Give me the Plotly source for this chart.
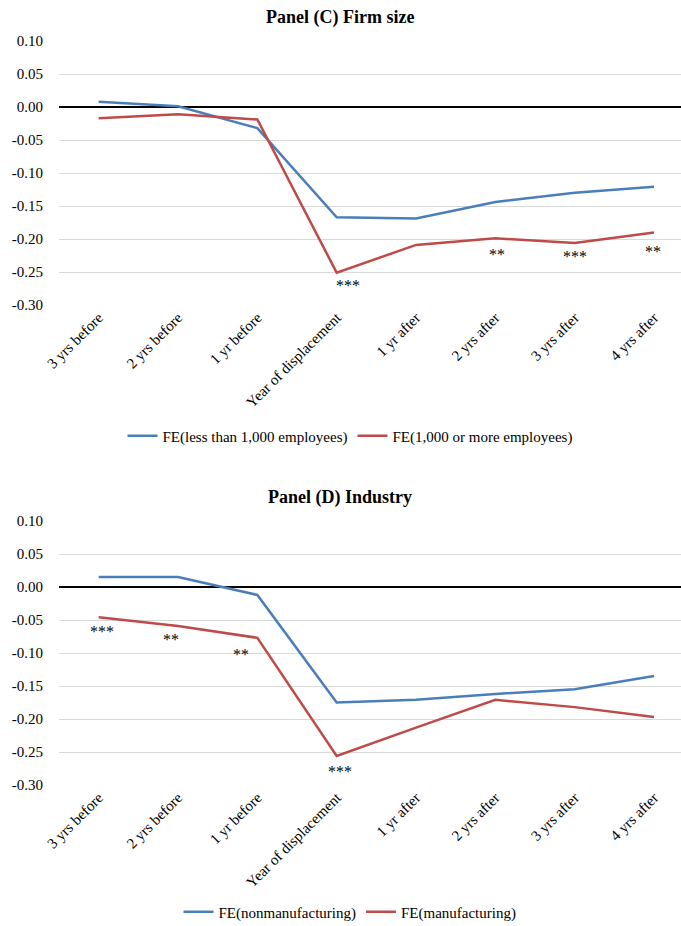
import plotly.graph_objects as go

categories = ["3 yrs before", "2 yrs before", "1 yr before", "Year of displacement",
              "1 yr after", "2 yrs after", "3 yrs after", "4 yrs after"]

# Panel (C) Firm size
size_small = [0.008, 0.001, -0.032, -0.167, -0.169, -0.144, -0.130, -0.121]
size_large = [-0.017, -0.011, -0.019, -0.251, -0.209, -0.199, -0.206, -0.190]
size_stars = ["", "", "", "***", "", "**", "***", "**"]

# Panel (D) Industry
ind_nonmanu = [0.015, 0.015, -0.012, -0.175, -0.171, -0.162, -0.155, -0.135]
ind_manu = [-0.046, -0.059, -0.077, -0.256, -0.213, -0.171, -0.182, -0.197]
ind_stars = ["***", "**", "**", "***", "", "", "", ""]

y_ticks = [0.10, 0.05, 0.00, -0.05, -0.10, -0.15, -0.20, -0.25, -0.30]
y_tick_text = ["0.10", "0.05", "0.00", "-0.05", "-0.10", "-0.15", "-0.20", "-0.25", "-0.30"]

# label offsets (pixels) for the significance stars (style only)
size_star_shift = [(0, 0), (0, 0), (0, 0), (11, -2), (0, 0), (2, -6), (0, -3), (-1, -9)]
ind_star_shift = [(3, -4), (-7, -3), (-16, -6), (3, -5), (0, 0), (0, 0), (0, 0), (0, 0)]

BLUE = "#4a7ebb"
RED = "#be4b48"
FONT = "Liberation Serif"
W, H = 681, 926
FS = 15

fig = go.Figure()

def add_panel(fig, xa, ya, s1, s2, n1, n2, legend):
    fig.add_trace(go.Scatter(x=categories, y=s1, mode="lines", name=n1,
                             line=dict(color=BLUE, width=2.5), xaxis=xa, yaxis=ya,
                             legend=legend))
    fig.add_trace(go.Scatter(x=categories, y=s2, mode="lines", name=n2,
                             line=dict(color=RED, width=2.5), xaxis=xa, yaxis=ya,
                             legend=legend))

add_panel(fig, "x", "y", size_small, size_large,
          "FE(less than 1,000 employees)", "FE(1,000 or more employees)", "legend")
add_panel(fig, "x2", "y2", ind_nonmanu, ind_manu,
          "FE(nonmanufacturing)", "FE(manufacturing)", "legend2")

annotations = []
for xa, ya, vals, stars, shifts in [("x", "y", size_large, size_stars, size_star_shift),
                                    ("x2", "y2", ind_manu, ind_stars, ind_star_shift)]:
    for cat, v, s, (dx, dy) in zip(categories, vals, stars, shifts):
        if s:
            annotations.append(dict(x=cat, y=v, xref=xa, yref=ya, text=s, showarrow=False,
                                    yanchor="top", xanchor="center", xshift=dx, yshift=dy,
                                    font=dict(family=FONT, size=16, color="black")))

def py(pix):
    return 1 - pix / H

CX = (340 - 59) / (W - 59)
annotations.append(dict(text="<b>Panel (C) Firm size</b>", xref="paper", yref="paper",
                        x=CX, y=py(17), showarrow=False,
                        xanchor="center", yanchor="middle",
                        font=dict(family=FONT, size=18, color="black")))
annotations.append(dict(text="<b>Panel (D) Industry</b>", xref="paper", yref="paper",
                        x=CX, y=py(497), showarrow=False,
                        xanchor="center", yanchor="middle",
                        font=dict(family=FONT, size=18, color="black")))

yaxis_common = dict(range=[-0.30, 0.10], tickvals=y_ticks, ticktext=y_tick_text,
                    showgrid=True, gridcolor="#d9d9d9", gridwidth=1.2,
                    zeroline=True, zerolinecolor="black", zerolinewidth=1.5,
                    showline=False, ticks="outside", ticklen=12, automargin=False,
                    tickcolor="rgba(0,0,0,0)",
                    tickfont=dict(family=FONT, size=FS, color="black"))
xaxis_common = dict(type="category", range=[-0.5, 7.34], showgrid=False, zeroline=False,
                    showline=False, tickangle=-45, ticks="", automargin=False,
                    tickfont=dict(family=FONT, size=FS, color="black"))

legend_common = dict(orientation="h", xanchor="center", yanchor="middle",
                     xref="container", yref="container",
                     font=dict(family=FONT, size=FS, color="black"),
                     bgcolor="rgba(0,0,0,0)", itemwidth=30)

fig.update_layout(
    width=W, height=H,
    margin=dict(l=59, r=0, t=0, b=0, autoexpand=False),
    paper_bgcolor="white", plot_bgcolor="white",
    xaxis=dict(domain=[0, 1], anchor="y", **xaxis_common),
    yaxis=dict(domain=[py(305), py(41)], anchor="x", **yaxis_common),
    xaxis2=dict(domain=[0, 1], anchor="y2", **xaxis_common),
    yaxis2=dict(domain=[py(785), py(521)], anchor="x2", **yaxis_common),
    legend=dict(x=350 / W, y=py(436), **legend_common),
    legend2=dict(x=350 / W, y=py(912), **legend_common),
    annotations=annotations,
    showlegend=True,
)

fig.write_html("out.html")
